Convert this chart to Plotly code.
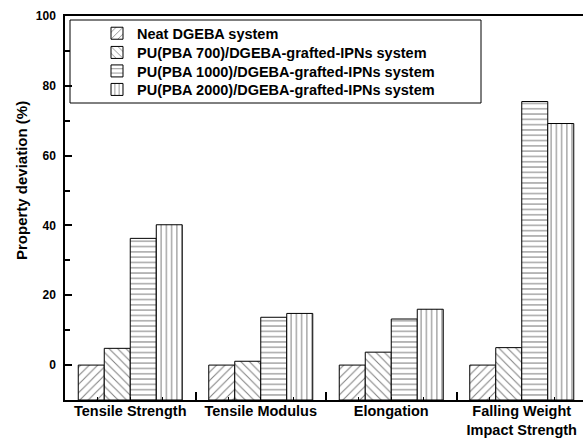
import plotly.graph_objects as go

categories = ["Tensile Strength", "Tensile Modulus", "Elongation", "Falling Weight<br>Impact Strength"]
series_names = [
    "Neat DGEBA system",
    "PU(PBA 700)/DGEBA-grafted-IPNs system",
    "PU(PBA 1000)/DGEBA-grafted-IPNs system",
    "PU(PBA 2000)/DGEBA-grafted-IPNs system",
]
neat = [0.0, 0.0, 0.0, 0.0]
pu700 = [4.8, 1.1, 3.7, 5.0]
pu1000 = [36.3, 13.7, 13.2, 75.5]
pu2000 = [40.2, 14.8, 16.0, 69.2]
y_ticks = [0, 20, 40, 60, 80, 100]

Y_MIN, Y_MAX = -10, 100
W, H = 583, 438
ML, MR, MT, MB = 65, 0, 16, 38
PW = W - ML - MR
PH = H - MT - MB

FONT = "Arial, Liberation Sans, sans-serif"
patterns = [
    dict(shape="/", size=6, solidity=0.17),
    dict(shape="\\", size=6, solidity=0.17),
    dict(shape="-", size=5.3, solidity=0.2),
    dict(shape="|", size=5.2, solidity=0.2),
]
legend_rows_px = [33.3, 52.5, 71, 89.5]


def px_x(p):
    return (p - ML) / PW


def px_y(p):
    return (H - MB - p) / PH


xs = list(range(len(categories)))
fig = go.Figure()
legend_ids = ["legend", "legend2", "legend3", "legend4"]
for name, vals, pat, lid in zip(series_names, [neat, pu700, pu1000, pu2000], patterns, legend_ids):
    fig.add_trace(go.Bar(
        x=xs,
        y=[v - Y_MIN for v in vals],
        base=Y_MIN,
        name=name,
        legend=lid,
        marker=dict(
            color="white",
            line=dict(color="black", width=1),
            pattern=dict(fgcolor="black", bgcolor="white", fillmode="overlay", **pat),
        ),
    ))

cat_px = 130.5
x_hi = -0.5 + PW / cat_px

legend_font = dict(family=FONT, size=14.5, weight="bold", color="black")
legend_layouts = {}
for lid, row in zip(legend_ids, legend_rows_px):
    legend_layouts[lid] = dict(
        x=px_x(97), y=px_y(row), xanchor="left", yanchor="middle",
        bgcolor="rgba(0,0,0,0)", borderwidth=0, font=legend_font,
    )

fig.update_layout(
    width=W, height=H,
    margin=dict(l=ML, r=MR, t=MT, b=MB, pad=0),
    paper_bgcolor="white", plot_bgcolor="white",
    barmode="group", bargap=0.203, bargroupgap=0,
    font=dict(family=FONT, color="black"),
    showlegend=True,
    **legend_layouts,
    xaxis=dict(
        range=[-0.5, x_hi], tickmode="array", tickvals=xs, ticktext=categories,
        showline=True, linecolor="black", linewidth=1.5, mirror=True,
        ticks="inside", ticklen=3, tickcolor="black", tickwidth=1,
        minor=dict(tickmode="array", tickvals=[x + d for x in xs for d in (-0.25, 0.25)],
                   ticks="inside", ticklen=3, tickcolor="black", tickwidth=1),
        tickfont=dict(family=FONT, size=14.5, weight="bold", color="black"),
        ticklabelstandoff=-3,
        showgrid=False, zeroline=False, automargin=False, fixedrange=True,
    ),
    xaxis2=dict(
        overlaying="x", matches="x", side="bottom", range=[-0.5, x_hi],
        tickmode="array", tickvals=[x + 0.5 for x in xs[:-1]] + [-0.5],
        ticks="inside", ticklen=8, tickcolor="black", tickwidth=1.5,
        showticklabels=False, showline=False, showgrid=False, zeroline=False,
        automargin=False,
    ),
    yaxis=dict(
        range=[Y_MIN, Y_MAX], tickmode="array", tickvals=y_ticks,
        showline=True, linecolor="black", linewidth=1.5, mirror=True,
        ticks="inside", ticklen=7, tickcolor="black", tickwidth=1.5,
        minor=dict(tickmode="array", tickvals=[10, 30, 50, 70, 90],
                   ticks="inside", ticklen=5, tickcolor="black", tickwidth=1.5),
        tickfont=dict(family=FONT, size=12, weight="bold", color="black"),
        ticklabelstandoff=5,
        showgrid=False, zeroline=False, automargin=False, fixedrange=True,
    ),
    annotations=[dict(
        text="Property deviation (%)", textangle=-90, showarrow=False,
        xref="paper", yref="paper", x=px_x(21), y=px_y(181),
        xanchor="center", yanchor="middle",
        font=dict(family=FONT, size=15, weight="bold", color="black"),
    )],
    shapes=[dict(
        type="rect", xref="paper", yref="paper",
        x0=px_x(70), x1=px_x(481), y0=px_y(103), y1=px_y(20),
        line=dict(color="black", width=1), fillcolor="rgba(0,0,0,0)",
    )],
)
# invisible trace to activate xaxis2 (boundary ticks between categories)
fig.add_trace(go.Scatter(x=[0], y=[0], xaxis="x2", mode="none", showlegend=False, hoverinfo="skip"))

fig.write_html("out.html")
